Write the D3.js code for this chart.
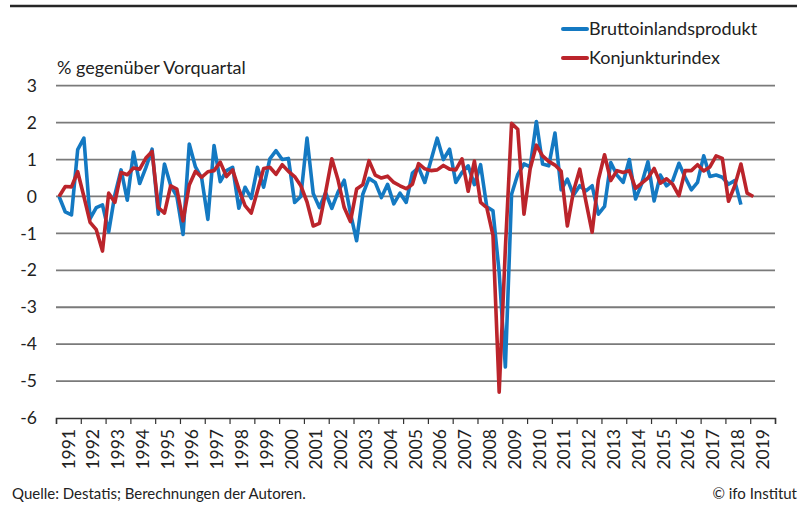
<!DOCTYPE html>
<html lang="de">
<head>
<meta charset="UTF-8">
<title>BIP und Konjunkturindex</title>
<script src="https://cdn.jsdelivr.net/npm/d3@7"></script>
<style>
  body { margin: 0; background: #fff; }
  svg text { font-family: Lato, "Open Sans", sans-serif; fill: #222; }
</style>
</head>
<body>
<div id="chart"></div>
<script>
// quarterly change in % vs previous quarter, 1991Q1 onwards
var bip = [
  0, -0.42, -0.5, 1.27, 1.58, -0.6, -0.3, -0.23, -0.96, 0.05,
  0.72, -0.1, 1.2, 0.35, 0.78, 1.28, -0.48, 0.88, 0.3, 0.0,
  -1.03, 1.42, 0.8, 0.5, -0.62, 1.38, 0.4, 0.7, 0.79, -0.32,
  0.25, -0.05, 0.79, 0.25, 1.02, 1.24, 1.0, 1.03, -0.16, 0.0,
  1.58, 0.08, -0.3, 0.1, -0.32, 0.12, 0.44, -0.45, -1.2, 0.06,
  0.49, 0.38, -0.03, 0.33, -0.2, 0.09, -0.16, 0.63, 0.78, 0.38,
  0.98, 1.58, 1.0, 1.28, 0.38, 0.65, 0.83, 0.32, 0.86, -0.28,
  -0.39, -2.06, -4.62, 0.06, 0.6, 0.88, 0.8, 2.03, 0.88, 0.83,
  1.72, 0.18, 0.47, 0.04, 0.29, 0.15, 0.29, -0.48, -0.27, 0.92,
  0.58, 0.38, 1.0, -0.07, 0.35, 0.94, -0.12, 0.58, 0.29, 0.43,
  0.9, 0.52, 0.18, 0.38, 1.1, 0.54, 0.58, 0.52, 0.33, 0.43,
  -0.22
];
var konj = [
  0, 0.27, 0.26, 0.67, 0.0, -0.7, -0.9, -1.48, 0.09, -0.16,
  0.65, 0.59, 0.77, 0.74, 1.04, 1.22, -0.3, -0.45, 0.29, 0.2,
  -0.66, 0.31, 0.68, 0.52, 0.67, 0.7, 0.93, 0.54, 0.72, 0.2,
  -0.25, -0.45, 0.15, 0.76, 0.79, 0.6, 0.86, 0.68, 0.54, 0.29,
  -0.15, -0.8, -0.73, 0.12, 1.02, 0.45, -0.3, -0.68, 0.2, 0.32,
  0.97, 0.58, 0.5, 0.55, 0.38, 0.29, 0.21, 0.33, 0.89, 0.75,
  0.7, 0.72, 0.84, 0.74, 0.72, 1.02, 0.14, 0.96, -0.16, -0.3,
  -1.05, -5.3, -1.4, 1.98, 1.82, -0.48, 0.75, 1.39, 1.1, 0.95,
  0.85, 0.68, -0.8, 0.15, 0.74, -0.14, -0.97, 0.45, 1.13, 0.43,
  0.7, 0.65, 0.7, 0.22, 0.36, 0.5, 0.76, 0.36, 0.48, 0.33,
  0.02, 0.7, 0.7, 0.86, 0.69, 0.8, 1.1, 1.03, -0.13, 0.29,
  0.88, 0.09, 0.0
];
var years = d3.range(1991, 2020);
var yTicks = [3, 2, 1, 0, -1, -2, -3, -4, -5, -6];
var series = [
  { name: "Bruttoinlandsprodukt", values: bip, color: "#1479c2" },
  { name: "Konjunkturindex", values: konj, color: "#bb242b" }
];

var W = 800, H = 507;
var svg = d3.select("#chart").append("svg")
  .attr("width", W).attr("height", H);

// x runs over quarters, each year is one band of 4 quarters
var x = d3.scaleLinear().domain([0, years.length * 4]).range([56, 775]);
var y = d3.scaleLinear().domain([-6, 3]).range([418, 85.7]);

// top rule
svg.append("line")
  .attr("x1", 10).attr("x2", 797).attr("y1", 6).attr("y2", 6)
  .attr("stroke", "#262626").attr("stroke-width", 2.5);

// gridlines
svg.append("g").selectAll("line")
  .data(yTicks.filter(function(d) { return d > -6; }))
  .join("line")
  .attr("x1", x(0)).attr("x2", x(years.length * 4))
  .attr("y1", function(d) { return y(d); })
  .attr("y2", function(d) { return y(d); })
  .attr("stroke", "#7a7a7a").attr("stroke-width", 1.8);

// y labels
svg.append("g").selectAll("text")
  .data(yTicks)
  .join("text")
  .attr("x", 37).attr("y", function(d) { return y(d); })
  .attr("dy", "0.35em")
  .attr("text-anchor", "end")
  .style("font-size", "17.5px")
  .text(function(d) { return d; });

// bottom axis with ticks on year boundaries
var xAxis = d3.axisBottom(x)
  .tickValues(d3.range(0, years.length * 4 + 1, 4))
  .tickSize(6)
  .tickFormat("");
var ax = svg.append("g").attr("transform", "translate(0," + y(-6) + ")").call(xAxis);
ax.select(".domain").attr("stroke", "#333").attr("stroke-width", 1.5);
ax.selectAll(".tick line").attr("stroke", "#333").attr("stroke-width", 1.2);

svg.append("g").selectAll("text")
  .data(years)
  .join("text")
  .attr("transform", function(d, i) {
    return "translate(" + x(i * 4 + 2) + "," + (y(-6) + 11) + ") rotate(-90)";
  })
  .attr("dy", "0.35em")
  .attr("text-anchor", "end")
  .style("font-size", "17.5px")
  .text(function(d) { return d; });

// series lines
var line = d3.line()
  .x(function(d, i) { return x(i + 0.5); })
  .y(function(d) { return y(d); });

svg.append("g").selectAll("path")
  .data(series)
  .join("path")
  .attr("d", function(s) { return line(s.values); })
  .attr("fill", "none")
  .attr("stroke", function(s) { return s.color; })
  .attr("stroke-width", 3.6)
  .attr("stroke-linejoin", "round");

// legend
var leg = svg.append("g").selectAll("g")
  .data(series)
  .join("g")
  .attr("transform", function(d, i) { return "translate(563," + (29 + i * 29) + ")"; });
leg.append("line")
  .attr("x1", 0).attr("x2", 24)
  .attr("stroke", function(d) { return d.color; })
  .attr("stroke-width", 4).attr("stroke-linecap", "round");
leg.append("text")
  .attr("x", 26).attr("dy", "0.35em")
  .style("font-size", "18px")
  .text(function(d) { return d.name; });

// unit label
svg.append("text")
  .attr("x", 57).attr("y", 68).attr("dy", "0.35em")
  .style("font-size", "18px")
  .text("% gegenüber Vorquartal");

// footer
svg.append("text")
  .attr("x", 12).attr("y", 494).attr("dy", "0.35em")
  .style("font-size", "15px")
  .text("Quelle: Destatis; Berechnungen der Autoren.");
svg.append("text")
  .attr("x", 797).attr("y", 494).attr("dy", "0.35em")
  .attr("text-anchor", "end")
  .style("font-size", "15px")
  .text("© ifo Institut");
</script>
</body>
</html>
